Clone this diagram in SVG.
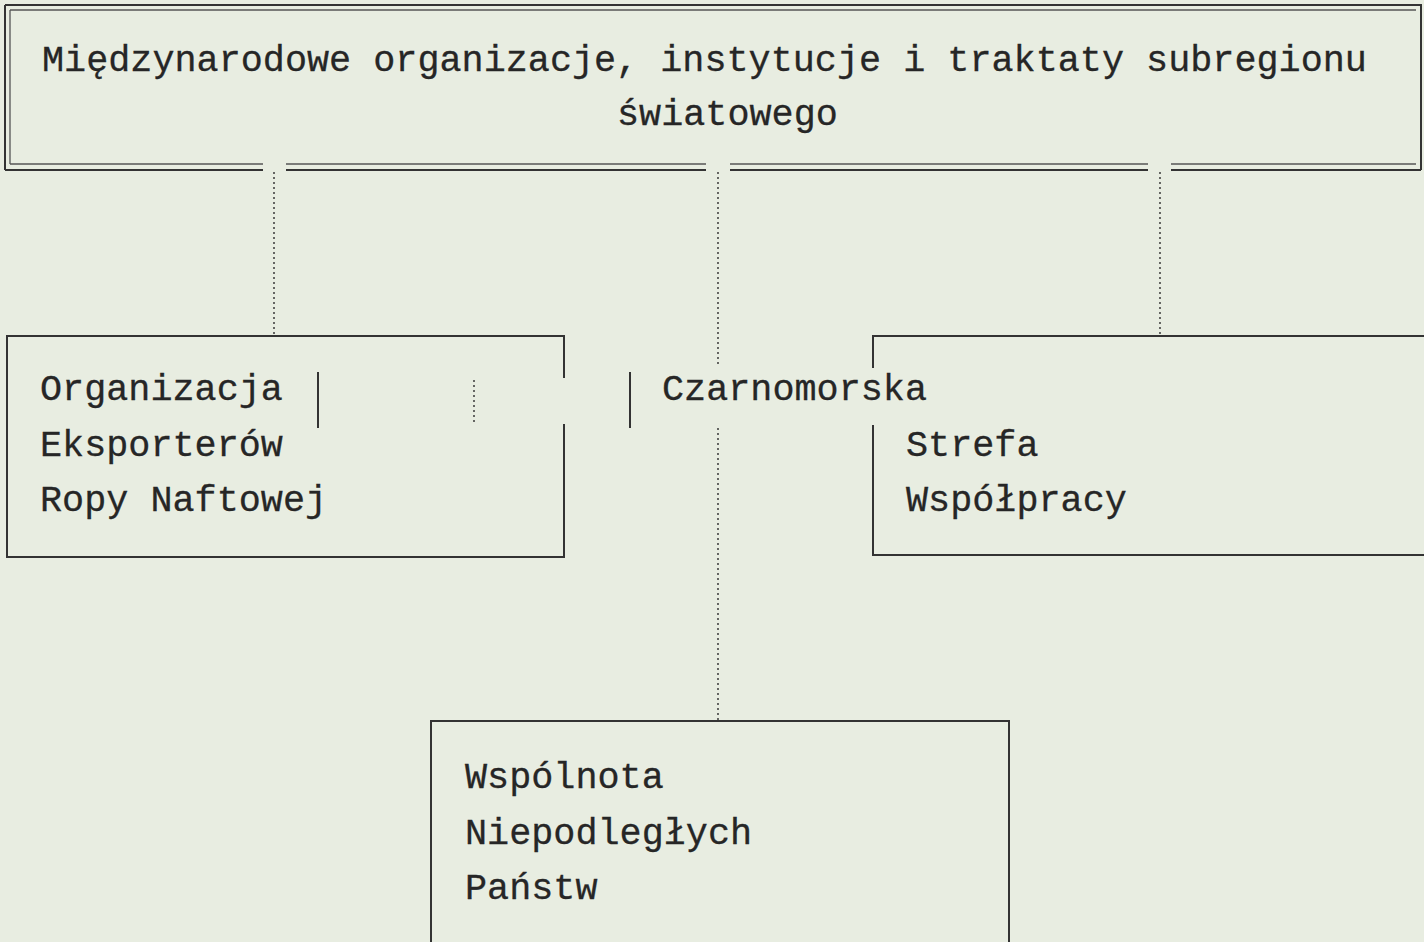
<svg xmlns="http://www.w3.org/2000/svg" width="1424" height="942" viewBox="0 0 1424 942">
<style>
.bg{fill:#e8ede1}
.t{font-family:"Liberation Mono","Courier New",monospace;font-size:36.8px;fill:#262626;stroke:#262626;stroke-width:0.3}
.b{stroke:#333;stroke-width:2;fill:none}
.bt{stroke:#555;stroke-width:1.3;fill:none}
.d{stroke:#444;stroke-width:1.6;stroke-dasharray:2 3;fill:none}
</style>
<rect class="bg" x="0" y="0" width="1424" height="942"/>
<g id="connectors">
<path class="d" d="M274 172V334"/>
<path class="d" d="M718 172V366M718 428V720"/>
<path class="d" d="M1160 172V334"/>
</g>
<g id="top">
<path class="b" d="M5 5H1421V170M5 5V170"/>
<path class="bt" d="M10 10H1416M10 10V164"/>
<path class="b" d="M5 170H263M286 170H706M730 170H1148M1171 170H1421"/>
<path class="bt" d="M10 164H263M286 164H706M730 164H1148M1171 164H1416"/>
<text class="t" x="42" y="71">Międzynarodowe organizacje, instytucje i traktaty subregionu</text>
<text class="t" x="617" y="125">światowego</text>
</g>
<g id="opec">
<path class="b" d="M564 378V336H7V557H564V424"/>
<path class="b" d="M318 372V428"/>
<path class="d" d="M474 380V425"/>
<text class="t" x="40" y="400">Organizacja</text>
<text class="t" x="40" y="456">Eksporterów</text>
<text class="t" x="40" y="511">Ropy Naftowej</text>
</g>
<g id="bsec">
<path class="b" d="M630 372V428"/>
<path class="b" d="M1424 336H873V368M873 425V555H1424"/>
<text class="t" x="662" y="400">Czarnomorska</text>
<text class="t" x="906" y="456">Strefa</text>
<text class="t" x="906" y="511">Współpracy</text>
</g>
<g id="cis">
<path class="b" d="M431 942V721H1009V942"/>
<text class="t" x="465" y="788">Wspólnota</text>
<text class="t" x="465" y="844">Niepodległych</text>
<text class="t" x="465" y="899">Państw</text>
</g>
</svg>
